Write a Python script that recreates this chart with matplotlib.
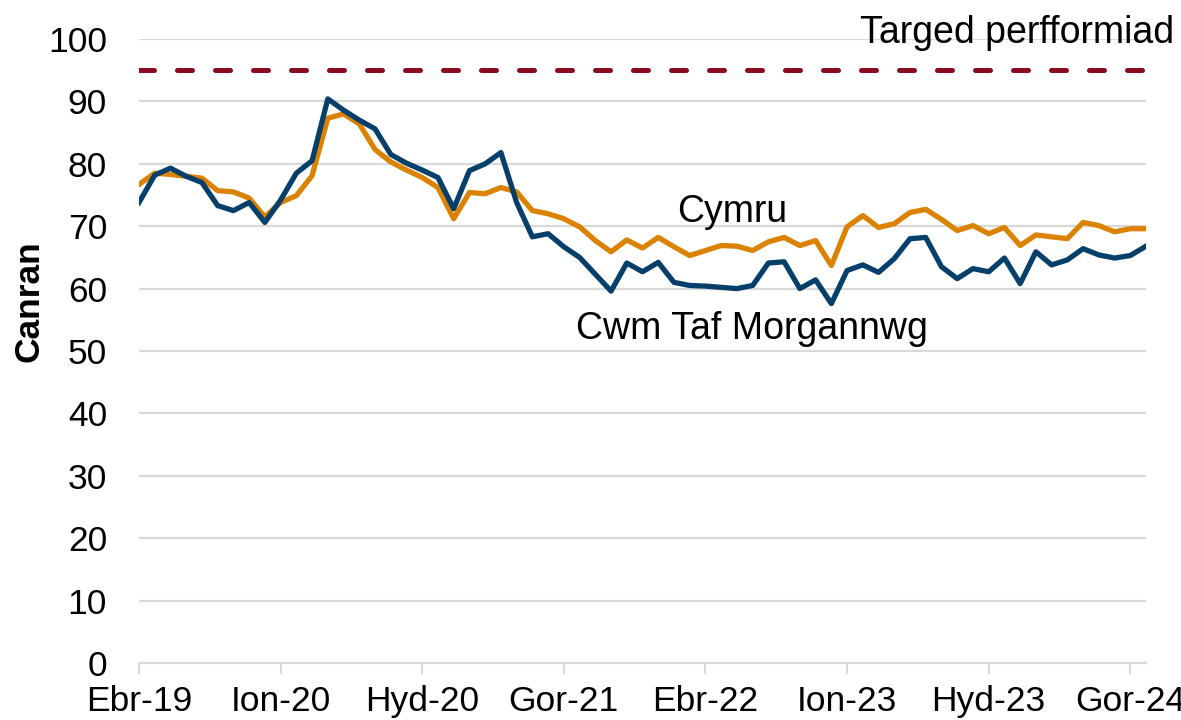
import numpy as np
import matplotlib
matplotlib.use('Agg')
import matplotlib.pyplot as plt

plt.rcParams['font.family'] = ['Liberation Sans', 'DejaVu Sans']

# monthly values, Apr 2019 .. Aug 2024
cwm_taf = [73.8, 78.2, 79.3, 78.0, 77.0, 73.3, 72.5, 73.8, 70.6, 74.2,
           78.5, 80.5, 90.4, 88.6, 87.0, 85.6, 81.5, 80.1, 79.0, 77.8,
           72.8, 78.9, 80.0, 81.8, 73.8, 68.3, 68.8, 66.7, 65.0, 62.3,
           59.6, 64.1, 62.7, 64.2, 61.0, 60.5, 60.4, 60.2, 60.0, 60.5,
           64.1, 64.3, 60.0, 61.4, 57.6, 62.9, 63.8, 62.6, 64.8, 68.0,
           68.2, 63.5, 61.6, 63.2, 62.7, 64.9, 60.8, 65.9, 63.8, 64.6,
           66.4, 65.4, 64.9, 65.3, 66.8]
cymru = [76.7, 78.5, 78.3, 78.0, 77.7, 75.7, 75.5, 74.5, 71.5, 73.8,
         74.9, 78.1, 87.3, 88.0, 86.4, 82.3, 80.3, 79.0, 77.8, 76.2,
         71.2, 75.4, 75.2, 76.2, 75.5, 72.5, 72.0, 71.2, 69.9, 67.7,
         65.9, 67.8, 66.5, 68.2, 66.7, 65.3, 66.1, 66.9, 66.8, 66.1,
         67.5, 68.2, 66.9, 67.7, 63.7, 69.9, 71.7, 69.8, 70.4, 72.2,
         72.7, 71.1, 69.3, 70.1, 68.8, 69.8, 66.9, 68.6, 68.3, 68.0,
         70.6, 70.1, 69.1, 69.6, 69.6]
target = 95
tick_labels = ['Ebr-19', 'Ion-20', 'Hyd-20', 'Gor-21', 'Ebr-22', 'Ion-23', 'Hyd-23', 'Gor-24']

x = np.arange(len(cymru))
fs = 25.5
fs_note = 27

fig = plt.figure(figsize=(11.81, 7.20), dpi=100)
ax = fig.add_axes([0.1177, 0.0792, 0.8527, 0.8666])

ax.plot(x, [target]*len(x), color='#8B0A22', linewidth=3.6,
        dashes=(3.0, 4.6), dash_capstyle='round', zorder=3)
ax.plot(x, cymru, color='#DB8300', linewidth=3.8, zorder=4)
ax.plot(x, cwm_taf, color='#073F6B', linewidth=3.8, zorder=5)

ax.text(34.2, 70.7, 'Cymru', fontsize=fs_note, ha='left', va='baseline', zorder=6)
ax.text(27.8, 51.9, 'Cwm Taf Morgannwg', fontsize=fs_note, ha='left', va='baseline', zorder=6)
ax.text(65.8, 99.4, 'Targed perfformiad', fontsize=fs_note, ha='right', va='baseline',
        zorder=6, clip_on=False)

ax.set_xlim(0, 64)
ax.set_ylim(0, 100)
ax.set_yticks(np.arange(0, 101, 10))
ax.set_xticks(np.arange(0, 64, 9))
ax.set_xticklabels(tick_labels)
ax.yaxis.grid(True, color='#D9D9D9', linewidth=1.6, zorder=0)
ax.set_axisbelow(True)

for s in ['top', 'right', 'left']:
    ax.spines[s].set_visible(False)
ax.spines['bottom'].set_color('#D9D9D9')
ax.spines['bottom'].set_linewidth(1.6)

ax.tick_params(axis='y', length=0, pad=23, labelsize=fs)
ax.tick_params(axis='x', length=8, width=1.5, color='#D9D9D9', pad=8, labelsize=fs)

ax.set_ylabel('Canran', fontsize=fs, fontweight='bold', labelpad=14)
ax.yaxis.set_label_coords(-0.093, 0.58)

fig.savefig('out.png', dpi=100)
